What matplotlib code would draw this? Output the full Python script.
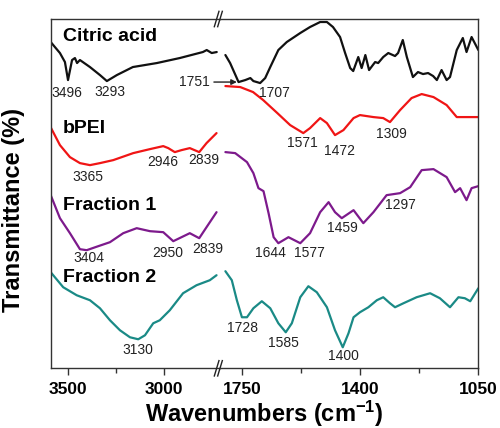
import numpy as np
import matplotlib.pyplot as plt
from matplotlib.ticker import FixedLocator

plt.rcParams['font.family'] = ['Liberation Sans', 'DejaVu Sans']
plt.rcParams['mathtext.fontset'] = 'custom'
plt.rcParams['mathtext.rm'] = 'Liberation Sans:bold'
plt.rcParams['mathtext.bf'] = 'Liberation Sans:bold'
plt.rcParams['mathtext.default'] = 'bf'

# ---- data: left window (O-H / C-H region), right window (fingerprint) ----
citric_w_left = [3590, 3542, 3516, 3500, 3479, 3464, 3453, 3438, 3386, 3334, 3298,
                 3246, 3163, 3038, 2919, 2799, 2779, 2753, 2727]
citric_t_left = [326, 315, 306, 288, 308, 310, 305, 308, 301, 293, 287,
                 293, 301, 305, 310, 316, 318, 315, 316]
citric_w_right = [1799, 1785, 1760, 1740, 1725, 1716, 1696, 1681, 1666, 1642, 1617,
                  1577, 1548, 1518, 1498, 1480, 1459, 1444, 1429, 1420, 1405, 1395,
                  1384, 1373, 1355, 1346, 1331, 1316, 1296, 1287, 1273, 1261, 1243,
                  1228, 1213, 1198, 1183, 1172, 1158, 1143, 1133, 1113, 1095, 1084,
                  1069, 1049]
citric_t_right = [313, 305, 286, 288, 290, 287, 285, 290, 301, 318, 326,
                  335, 341, 346, 346, 341, 331, 315, 300, 297, 311, 300,
                  313, 298, 306, 305, 311, 315, 312, 315, 328, 311, 291,
                  296, 294, 295, 292, 288, 298, 288, 291, 318, 330, 316,
                  331, 318]

bpei_w_left = [3588, 3542, 3490, 3438, 3386, 3334, 3265, 3161, 3074, 3005, 2979,
               2945, 2910, 2867, 2818, 2780, 2728]
bpei_t_left = [240, 223, 211, 205, 203, 205, 208, 215, 219, 222, 220,
               216, 218, 220, 216, 225, 235]
bpei_w_right = [1799, 1755, 1717, 1687, 1645, 1607, 1568, 1548, 1518, 1498, 1474,
                1449, 1419, 1400, 1360, 1331, 1311, 1281, 1247, 1217, 1182, 1143,
                1113, 1084, 1049]
bpei_t_right = [282, 281, 276, 268, 255, 243, 235, 240, 250, 245, 233,
                238, 250, 253, 251, 250, 246, 258, 270, 274, 271, 263,
                251, 251, 251]

frac1_w_left = [3590, 3542, 3490, 3438, 3403, 3343, 3282, 3213, 3143, 3074, 3005,
                2953, 2910, 2867, 2818, 2780, 2728]
frac1_t_left = [173, 150, 135, 119, 118, 122, 126, 135, 140, 137, 136,
                127, 131, 135, 130, 141, 156]
frac1_w_right = [1799, 1770, 1735, 1716, 1701, 1686, 1671, 1656, 1642, 1612, 1577,
                 1548, 1518, 1493, 1474, 1454, 1419, 1390, 1360, 1321, 1281, 1251,
                 1217, 1182, 1143, 1118, 1103, 1084, 1069, 1049]
frac1_t_right = [216, 215, 206, 195, 180, 177, 155, 131, 125, 131, 125,
                 135, 156, 166, 156, 150, 158, 145, 156, 173, 175, 181,
                 198, 199, 191, 176, 180, 168, 180, 182]

frac2_w_left = [3590, 3525, 3455, 3386, 3334, 3282, 3230, 3178, 3135, 3100, 3057,
                3023, 2971, 2902, 2832, 2763, 2728]
frac2_t_left = [96, 81, 73, 68, 60, 48, 38, 31, 29, 33, 45,
                48, 58, 75, 83, 88, 93]
frac2_w_right = [1799, 1780, 1765, 1750, 1735, 1716, 1691, 1666, 1642, 1620, 1602,
                 1577, 1553, 1528, 1498, 1474, 1451, 1434, 1419, 1400, 1375, 1350,
                 1331, 1311, 1296, 1271, 1232, 1192, 1163, 1133, 1108, 1089, 1073,
                 1049]
frac2_t_right = [97, 88, 68, 51, 51, 60, 67, 60, 45, 36, 45,
                 71, 82, 76, 61, 38, 21, 35, 51, 56, 61, 68,
                 71, 65, 61, 65, 71, 75, 70, 61, 71, 70, 67,
                 80]

names = ['Citric acid', 'bPEI', 'Fraction 1', 'Fraction 2']
name_y = [332, 240, 163, 91]
colors = ['#111111', '#f01515', '#7d1a8c', '#1a8a86']

# peak labels: (text, wavenumber, y)
peaks_left = [('3496', 3505, 275), ('3293', 3282, 276),
              ('3365', 3399, 191), ('2946', 3007, 206), ('2839', 2794, 208),
              ('3404', 3391, 110), ('2950', 2984, 115), ('2839', 2773, 119),
              ('3130', 3139, 18)]
peaks_right = [('1707', 1654, 275),
               ('1571', 1572, 225), ('1472', 1462, 217), ('1309', 1308, 234),
               ('1644', 1666, 115), ('1577', 1551, 115), ('1459', 1451, 140),
               ('1297', 1281, 163),
               ('1728', 1749, 40), ('1585', 1627, 25), ('1400', 1448, 12)]

left_sets = [(citric_w_left, citric_t_left), (bpei_w_left, bpei_t_left),
             (frac1_w_left, frac1_t_left), (frac2_w_left, frac2_t_left)]
right_sets = [(citric_w_right, citric_t_right), (bpei_w_right, bpei_t_right),
              (frac1_w_right, frac1_t_right), (frac2_w_right, frac2_t_right)]

fig = plt.figure(figsize=(5, 4.28), dpi=100)
gs = fig.add_gridspec(1, 2, left=0.1014, right=0.956, bottom=0.1395, top=0.9556,
                      wspace=0, width_ratios=[169.3, 258])
ax1 = fig.add_subplot(gs[0])
ax2 = fig.add_subplot(gs[1], sharey=ax1)
ax2.patch.set_visible(False)

for (wl, tl), (wr, tr), c in zip(left_sets, right_sets, colors):
    ax1.plot(wl, tl, color=c, lw=1.6, solid_joinstyle='round', solid_capstyle='round')
    ax2.plot(wr, tr, color=c, lw=1.6, solid_joinstyle='round', solid_capstyle='round')

ax1.set_xlim(3590, 2710)
ax2.set_xlim(1815, 1050)
ax1.set_ylim(0, 349)

for n, y in zip(names, name_y):
    ax1.text(3526, y, n, fontsize=14, fontweight='bold', va='center', ha='left')

for t, w, y in peaks_left:
    ax1.text(w, y, t, fontsize=10, ha='center', va='center', color='#222222')
for t, w, y in peaks_right:
    ax2.text(w, y, t, fontsize=10, ha='center', va='center', color='#222222')

ax2.annotate('1751', xy=(1765, 286), xytext=(1891, 286), fontsize=10,
             ha='center', va='center', color='#222222', annotation_clip=False,
             arrowprops=dict(arrowstyle='-|>', color='#222222', lw=1,
                             shrinkA=1, shrinkB=0, mutation_scale=8))

# spines / ticks
ax1.set_xticks([3500, 3000])
ax1.xaxis.set_minor_locator(FixedLocator([3250]))
ax2.set_xticks([1750, 1400, 1050])
ax2.xaxis.set_minor_locator(FixedLocator([1575, 1225]))
for ax in (ax1, ax2):
    ax.tick_params(axis='y', left=False, right=False, labelleft=False)
    ax.tick_params(axis='x', direction='out', length=5, width=1, labelsize=12.5, pad=5,
                   color='#333333')
    ax.tick_params(axis='x', which='minor', direction='out', length=3.5, width=1,
                   color='#333333')
    for s in ax.spines.values():
        s.set_color('#333333')
        s.set_linewidth(1)
    for lab in ax.get_xticklabels():
        lab.set_fontweight('bold')
ax1.spines['right'].set_visible(False)
ax2.spines['left'].set_visible(False)

# break marks
dx, dy = 0.009, 0.022
for yy in (0, 1):
    for off in (-0.013, 0.0):
        ax2.plot([off - dx, off + dx], [yy - dy, yy + dy], transform=ax2.transAxes,
                 color='#222222', lw=1, clip_on=False)

ax1.set_ylabel('Transmittance (%)', fontsize=17, fontweight='bold')
ax1.yaxis.set_label_coords(-0.152, 0.453)
fig.text(0.528, 0.034, r'Wavenumbers (cm$^{-1}$)', fontsize=17,
         fontweight='bold', ha='center', va='center')

fig.savefig('out.png', dpi=100)
